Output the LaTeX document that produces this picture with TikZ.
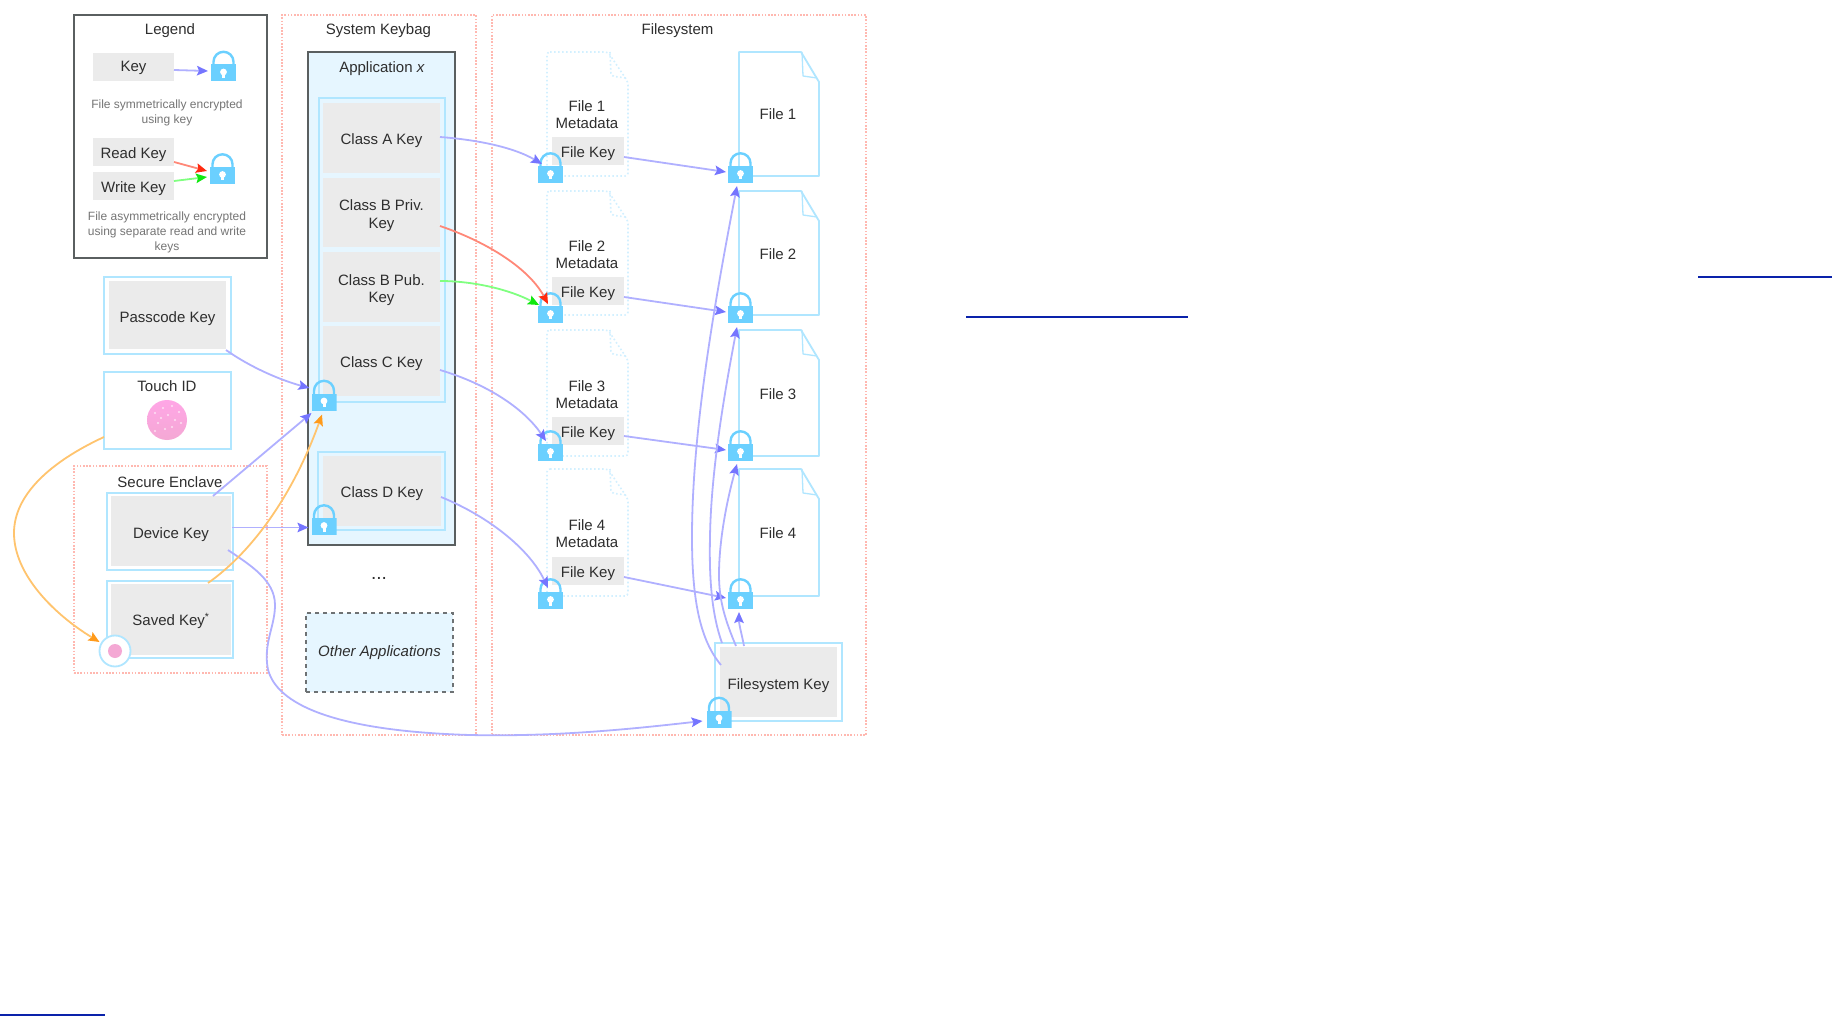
\documentclass[tikz,border=0pt]{standalone}
\usepackage{fontspec}
\setmainfont{Liberation Sans}
\usetikzlibrary{arrows.meta,shadings}
\definecolor{txt}{HTML}{2E2E2E}
\definecolor{sub}{HTML}{757575}
\definecolor{zone}{HTML}{FFB8B0}
\definecolor{sky}{HTML}{B0E6FF}
\definecolor{ghostsky}{HTML}{D2F0FF}
\definecolor{skyfill}{HTML}{E6F6FF}
\definecolor{grayfill}{HTML}{EBEBEB}
\definecolor{lockc}{HTML}{6BD0FF}
\definecolor{edge}{HTML}{5A5F60}
\definecolor{dashc}{HTML}{6E7274}
\definecolor{pline}{HTML}{B0B0FF}
\definecolor{ptip}{HTML}{7575FF}
\definecolor{oline}{HTML}{FFC46E}
\definecolor{otip}{HTML}{FF9A1A}
\definecolor{rline}{HTML}{FF8878}
\definecolor{rtip}{HTML}{FF2A10}
\definecolor{gline}{HTML}{80FF80}
\definecolor{gtip}{HTML}{10E810}
\definecolor{ulink}{HTML}{0A22AA}
\definecolor{pinka}{HTML}{FFA6E6}
\definecolor{pinkb}{HTML}{F4A8D4}
\tikzset{
  base/.style={inner sep=0pt,outer sep=0pt,align=center,text=txt,font=\fontsize{15}{17.5}\selectfont},
  zonebox/.style={base,draw=zone,line width=1.3pt,dash pattern=on 1.6pt off 1.6pt},
  legendbox/.style={base,draw=edge,line width=1.8pt,fill=white},
  appbox/.style={base,draw=edge,line width=1.8pt,fill=skyfill},
  groupbox/.style={base,draw=sky,line width=1.8pt},
  keybox/.style={base,fill=grayfill},
  otherbox/.style={base,draw=dashc,fill=skyfill,line width=1.6pt,dash pattern=on 4pt off 4pt},
  title/.style={base},
  note/.style={base,text=sub,font=\fontsize{12}{15}\selectfont},
  doc/.style={draw=sky,line width=1.8pt,line join=round},
  ghostdoc/.style={draw=ghostsky,line width=1.6pt,dash pattern=on 1.6pt off 2.4pt,rounded corners=3pt},
  ghost/.style={inner sep=0pt,outer sep=0pt},
  lock/.style={inner sep=0pt,outer sep=0pt,minimum width=25pt,minimum height=31pt,
    path picture={
      \begin{scope}[shift={(path picture bounding box.center)}]
        \fill[lockc] (-12.5,-1.5) rectangle (12.5,15.5);
        \draw[lockc,line width=2.4pt] (-10,-1) -- (-10,-4.2) arc[start angle=180,end angle=360,radius=10] -- (10,-1);
        \fill[white] (0,6) circle[radius=3.4];
        \fill[white] (-1.5,6) rectangle (1.5,12);
      \end{scope}
    }},
  parrow/.style={draw=pline,line width=1.8pt,-{Stealth[length=11pt,width=9.5pt,inset=2pt,color=ptip]}},
  oarrow/.style={draw=oline,line width=1.8pt,-{Stealth[length=11pt,width=9.5pt,inset=2pt,color=otip]}},
  rarrow/.style={draw=rline,line width=1.8pt,-{Stealth[length=11pt,width=9.5pt,inset=2pt,color=rtip]}},
  garrow/.style={draw=gline,line width=1.8pt,-{Stealth[length=11pt,width=9.5pt,inset=2pt,color=gtip]}},
  underlink/.style={draw=ulink,line width=2pt},
}
\def\lbly{2.5}
\newcommand{\bx}[7]{%
  \pgfmathsetmacro{\bxw}{#5-#3}\pgfmathsetmacro{\bxh}{#6-#4}%
  \pgfmathsetmacro{\bxx}{(#3+#5)/2}\pgfmathsetmacro{\bxy}{(#4+#6)/2}%
  \pgfmathsetmacro{\bxt}{\bxy+\lbly}%
  \node[#1,minimum width=\bxw pt,minimum height=\bxh pt] (#2) at (\bxx,\bxy) {};
  \node[title] (#2t) at (\bxx,\bxt) {#7};}
\newcommand{\lk}[3]{\node[lock] (#1) at (#2,#3) {};}
\newcommand{\filedoc}[3]{% name, top, bottom
  \pgfmathsetmacro{\ya}{#2+24}\pgfmathsetmacro{\yb}{#2+26}\pgfmathsetmacro{\yc}{#2+30}%
  \node[ghost,minimum width=80pt,minimum height=124pt] (#1) at (779,{(#2+#3)/2}) {};
  \draw[doc] (739,#2) -- (801,#2) -- (819,\yc) -- (819,#3) -- (739,#3) -- cycle;
  \draw[doc,line width=1.3pt] (802,#2) -- (803,\ya) -- (817,\yb);}
\newcommand{\metadoc}[3]{%
  \pgfmathsetmacro{\ya}{#2+24}\pgfmathsetmacro{\yb}{#2+26}\pgfmathsetmacro{\yc}{#2+30}%
  \node[ghost,minimum width=81pt,minimum height=124pt] (#1) at (587.5,{(#2+#3)/2}) {};
  \draw[ghostdoc] (547,#2) -- (608,#2) -- (628,\yc) -- (628,#3) -- (547,#3) -- cycle;
  \draw[ghostdoc] (610,#2) -- (611,\ya) -- (626,\yb);}
\begin{document}
\begin{tikzpicture}[x=1pt,y=-1pt]
\useasboundingbox (0,0) rectangle (1832,1016);
\fill[white] (0,0) rectangle (1832,1016);

% Containers
\bx{legendbox}{legend}{74}{15}{267}{258}{}
\bx{zonebox}{keybag}{282}{15}{476}{735}{}
\bx{zonebox}{fsys}{492}{15}{866}{735}{}
\bx{zonebox}{enclave}{74}{466}{267}{673}{}
\node[title] (tlegend) at (170,31) {Legend};
\node[title] (tkeybag) at (378.5,31) {System Keybag};
\node[title] (tfsys) at (677.5,31) {Filesystem};
\node[title] (tenclave) at (170,482) {Secure Enclave};

% Legend
\def\lbly{1.2}
\bx{keybox}{kk}{93}{53}{174}{81}{Key}
\def\lbly{3}
\bx{keybox}{rk}{93}{138}{174}{166}{Read Key}
\def\lbly{2.2}
\bx{keybox}{wk}{93}{172}{174}{200}{Write Key}
\node[note] (n1) at (167,112.5) {File symmetrically encrypted\\using key};
\node[note] (n2) at (167,232.5) {File asymmetrically encrypted\\using separate read and write\\keys};

% Keybag
\bx{appbox}{app}{308}{52}{455}{545}{}
\node[title] (tapp) at (382,69) {Application \textit{x}};
\bx{groupbox}{gabc}{319}{98}{445}{402}{}
\bx{groupbox}{gd}{318}{452}{445}{530}{}
\def\lbly{3}
\bx{keybox}{ca}{323}{103}{440}{173}{Class A Key}
\bx{keybox}{cb}{323}{178}{440}{247}{Class B Priv.\\Key}
\bx{keybox}{cp}{323}{252}{440}{322}{Class B Pub.\\Key}
\bx{keybox}{cc}{323}{326}{440}{396}{Class C Key}
\bx{keybox}{cd}{323}{456}{441}{526}{Class D Key}
\node[title,font=\fontsize{19}{19}\selectfont] (dots) at (379,578) {...};
\def\lbly{0}
\bx{otherbox}{other}{306}{613}{453}{692}{\itshape Other Applications}

% Left keys
\def\lbly{3.2}
\bx{groupbox}{pk}{104}{277}{231}{354}{}
\bx{keybox}{pki}{109}{281}{226}{349}{Passcode Key}
\bx{groupbox}{tk}{104}{372}{231}{449}{}
\node[title] (ttouch) at (167,386) {Touch ID};
\node[ghost,circle,minimum size=40pt,top color=pinka,bottom color=pinkb] (fp) at (167,420) {};
\foreach \dx/\dy in {-12/-7,-4/-12,5/-14,12/-8,-9/3,1/-5,8/0,14/3,-2/9,5/7,-12/11,-6/-2}{
  \fill[white,opacity=.65] ([shift={(\dx,\dy)}]fp.center) circle[radius=1.2];}
\bx{groupbox}{dko}{107}{493}{233}{570}{}
\bx{keybox}{dk}{111}{496}{231}{566}{Device Key}
\bx{groupbox}{sko}{107}{581}{233}{658}{}
\def\lbly{1.2}
\bx{keybox}{sk}{111}{584}{231}{655}{Saved Key\textsuperscript{*}}
\node[ghost,circle,draw=sky,line width=1.8pt,fill=white,minimum size=31pt] (sens) at (115,651) {};
\node[ghost,circle,fill=pinkb,minimum size=14pt] (sensdot) at (115,651) {};

% Metadata
\metadoc{m1}{52}{176}
\metadoc{m2}{191}{315}
\metadoc{m3}{330}{456}
\metadoc{m4}{469}{596}
\node[title] (mt1) at (587,114.5) {File 1\\Metadata};
\node[title] (mt2) at (587,254.5) {File 2\\Metadata};
\node[title] (mt3) at (587,394.5) {File 3\\Metadata};
\node[title] (mt4) at (587,533.5) {File 4\\Metadata};
\def\lbly{2.5}
\bx{keybox}{fk1}{552}{137}{624}{165}{File Key}
\bx{keybox}{fk2}{552}{277}{624}{305}{File Key}
\bx{keybox}{fk3}{552}{417}{624}{445}{File Key}
\bx{keybox}{fk4}{552}{557}{624}{585}{File Key}

% Files
\filedoc{f1}{52}{176}
\filedoc{f2}{191}{315}
\filedoc{f3}{330}{456}
\filedoc{f4}{469}{596}
\node[title] (ft1) at (778,114) {File 1};
\node[title] (ft2) at (778,254) {File 2};
\node[title] (ft3) at (778,394) {File 3};
\node[title] (ft4) at (778,533) {File 4};
\bx{groupbox}{fso}{715}{643}{842}{721}{}
\def\lbly{3.2}
\bx{keybox}{fs}{720}{647}{837}{717}{Filesystem Key}

% Locks
\lk{LL1}{223.5}{66}
\lk{LL2}{222.5}{168.5}
\lk{LC}{324}{395}
\lk{LD}{324}{519.5}
\lk{ML1}{550.5}{167.5}
\lk{ML2}{550.5}{307.5}
\lk{ML3}{550.5}{445.5}
\lk{ML4}{550.5}{593.5}
\lk{FL1}{740.5}{167.5}
\lk{FL2}{740.5}{307.5}
\lk{FL3}{740.5}{445.5}
\lk{FL4}{740.5}{593.5}
\lk{FSL}{719}{712}

% Legend connectors
\draw[parrow] ([shift={(0,3)}]kk.east) -- ([shift={(-3,5)}]LL1.west);
\draw[rarrow] ([shift={(0,10)}]rk.east) -- ([shift={(-3,2.5)}]LL2.west);
\draw[garrow] ([shift={(0,-5)}]wk.east) -- ([shift={(-3,8.5)}]LL2.west);

% Root keys
\draw[parrow] ([shift={(-5,-4)}]pk.south east) .. controls (250,367) and (280,380) .. ([shift={(-2,-7)}]LC.west);
\draw[parrow] ([shift={(-20,3)}]dko.north east) -- ([shift={(0,18)}]LC.west);
\draw[parrow] ([shift={(-1,-4)}]dko.east) -- ([shift={(-3,8)}]LD.west);
\draw[parrow] ([shift={(-5,18.5)}]dko.east) .. controls (250,565) and (275,580) .. (275,605) .. controls (275,625) and (265,640) .. (267,663) .. controls (269,690) and (300,730) .. (470,735) .. controls (560,737) and (640,728) .. ([shift={(-4,9)}]FSL.west);
\draw[oarrow] ([shift={(0,26.5)}]tk.west) .. controls (50,462) and (14,495) .. (14,533) .. controls (14,575) and (55,615) .. ([shift={(0,-9)}]sens.west);
\draw[oarrow] ([shift={(-25,2)}]sko.north east) .. controls (255,550) and (295,490) .. ([shift={(-2,4)}]LC.south);

% Class keys to metadata locks
\draw[parrow] ([shift={(0,-1)}]ca.east) .. controls (480,140) and (515,148) .. ([shift={(-8.5,-3.5)}]ML1.center);
\draw[rarrow] ([shift={(0,13.5)}]cb.east) .. controls (490,243) and (530,270) .. ([shift={(-2.5,-3.5)}]ML2.center);
\draw[garrow] ([shift={(0,-6)}]cp.east) .. controls (475,281) and (510,290) .. ([shift={(-11.5,-2.5)}]ML2.center);
\draw[parrow] ([shift={(0,9)}]cc.east) .. controls (490,385) and (525,410) .. ([shift={(-4.5,-4.5)}]ML3.center);
\draw[parrow] ([shift={(0,6)}]cd.east) .. controls (490,517) and (530,550) .. ([shift={(-2.5,-5.5)}]ML4.center);

% File keys to file locks
\draw[parrow] ([shift={(0,6)}]fk1.east) -- ([shift={(-2,4.5)}]FL1.west);
\draw[parrow] ([shift={(0,6)}]fk2.east) -- ([shift={(-2,4.5)}]FL2.west);
\draw[parrow] ([shift={(0,5)}]fk3.east) -- ([shift={(-2,4.5)}]FL3.west);
\draw[parrow] ([shift={(0,6)}]fk4.east) -- ([shift={(-2,4.5)}]FL4.west);

% Filesystem key to file locks
\draw[parrow] ([shift={(1,18)}]fs.north west) .. controls (700,640) and (692,600) .. (692,537) .. controls (692,430) and (715,300) .. ([shift={(-3.5,3)}]FL1.south);
\draw[parrow] ([shift={(7,0)}]fso.north west) .. controls (712,615) and (709,580) .. (710,537) .. controls (711,470) and (725,390) .. ([shift={(-3.5,4)}]FL2.south);
\draw[parrow] ([shift={(21,3)}]fso.north west) .. controls (725,620) and (719,600) .. (719,575) .. controls (719,540) and (727,500) .. ([shift={(-3.5,3)}]FL3.south);
\draw[parrow] ([shift={(29,3)}]fso.north west) .. controls (742,635) and (739,625) .. ([shift={(-1.5,3)}]FL4.south);

% Link underlines
\coordinate (u1a) at (1698,277); \coordinate (u1b) at (1832,277);
\coordinate (u2a) at (966,317.5); \coordinate (u2b) at (1188,317.5);
\coordinate (u3a) at (0,1015); \coordinate (u3b) at (105,1015);
\draw[underlink] (u1a) -- (u1b);
\draw[underlink] (u2a) -- (u2b);
\draw[underlink] (u3a) -- (u3b);
\end{tikzpicture}
\end{document}
